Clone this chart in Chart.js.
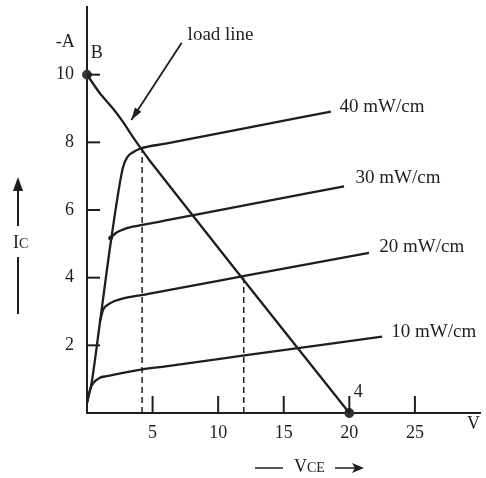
<!DOCTYPE html>
<html><head><meta charset="utf-8">
<script src="https://cdn.jsdelivr.net/npm/chart.js@4"></script>
<style>html,body{margin:0;padding:0;background:#fff}#wrap{width:486px;height:478px}</style>
</head><body><div id="wrap"><canvas id="c"></canvas></div>
<script>
// ---- data ----
const xTicks = [5, 10, 15, 20, 25];
const yTicks = [2, 4, 6, 8, 10];
const curve40X = [0, 0.35, 1.0, 1.85, 2.73, 3.05, 3.48, 4.11, 6.0, 12.0, 18.6];
const curve40Y = [0.3, 0.89, 2.72, 5.15, 7.24, 7.55, 7.7, 7.82, 7.96, 8.41, 8.91];
const curve30X = [1.8, 2.2, 2.73, 3.4, 4.11, 6.0, 12.0, 19.6];
const curve30Y = [5.17, 5.32, 5.42, 5.5, 5.55, 5.69, 6.14, 6.7];
const curve20X = [0.98, 1.23, 1.6, 1.98, 3.0, 4.23, 6.0, 12.0, 21.5];
const curve20Y = [2.7, 3.05, 3.2, 3.29, 3.41, 3.49, 3.62, 4.05, 4.73];
const curve10X = [0, 0.2, 0.47, 0.98, 1.5, 1.98, 4.23, 6.0, 12.0, 22.5];
const curve10Y = [0.3, 0.65, 0.88, 1.04, 1.09, 1.13, 1.29, 1.38, 1.70, 2.26];
const loadX = [0, 0.98, 1.98, 2.73, 3.48, 4.11, 4.74, 12.0, 20];
const loadY = [10, 9.45, 9.0, 8.61, 8.17, 7.82, 7.48, 3.9, 0];
const qPointsX = [4.2, 11.95];
const qPointsY = [7.84, 4.0];
const endPointsX = [0, 20];
const endPointsY = [10, 0];
const curveLabels = ['40 mW/cm', '30 mW/cm', '20 mW/cm', '10 mW/cm'];
const curveLabelX = [19.25, 20.47, 22.28, 23.2];
const curveLabelY = [9.05, 6.94, 4.92, 2.4];

const pts = (xs, ys) => xs.map((x, i) => ({x, y: ys[i]}));
const INK = '#1e1e1e';
const SERIF = '"Liberation Serif", "DejaVu Serif", serif';

const curveDs = (xs, ys) => ({
  data: pts(xs, ys), showLine: true, borderColor: INK, borderWidth: 2.3,
  pointRadius: 0, cubicInterpolationMode: 'monotone', fill: false
});

const datasets = [
  curveDs(curve40X, curve40Y),
  curveDs(curve30X, curve30Y),
  curveDs(curve20X, curve20Y),
  curveDs(curve10X, curve10Y),
  {data: pts(loadX, loadY), showLine: true, borderColor: INK, borderWidth: 2.3, pointRadius: 0, tension: 0.2},
  {data: [{x: qPointsX[0], y: 0}, {x: qPointsX[0], y: qPointsY[0]}], showLine: true, borderColor: INK, borderWidth: 1.5, borderDash: [6, 4], pointRadius: 0},
  {data: [{x: qPointsX[1], y: 0}, {x: qPointsX[1], y: qPointsY[1]}], showLine: true, borderColor: INK, borderWidth: 1.5, borderDash: [6, 4], pointRadius: 0},
  {data: pts(endPointsX, endPointsY), showLine: false, pointRadius: 4.5, pointBackgroundColor: '#333', pointBorderColor: '#333', clip: false},
  {data: [{x: curve30X[0], y: curve30Y[0]}], showLine: false, pointRadius: 2, pointBackgroundColor: INK, pointBorderColor: INK}
];

const deco = {
  id: 'deco',
  afterDatasetsDraw(chart) {
    const {ctx, scales: {x, y}} = chart;
    const X = v => x.getPixelForValue(v), Y = v => y.getPixelForValue(v);
    ctx.save();
    ctx.strokeStyle = INK; ctx.fillStyle = INK; ctx.lineWidth = 2;
    // inward tick marks
    yTicks.forEach(v => { ctx.beginPath(); ctx.moveTo(X(0), Y(v)); ctx.lineTo(X(0) + 13, Y(v)); ctx.stroke(); });
    xTicks.forEach(v => { ctx.beginPath(); ctx.moveTo(X(v), Y(0)); ctx.lineTo(X(v), Y(0) - 17); ctx.stroke(); });
    // load line arrow
    const ax0 = X(7.22), ay0 = Y(10.94), ax1 = X(3.38), ay1 = Y(8.66);
    ctx.lineWidth = 1.8;
    ctx.beginPath(); ctx.moveTo(ax0, ay0); ctx.lineTo(ax1, ay1); ctx.stroke();
    const ang = Math.atan2(ay1 - ay0, ax1 - ax0);
    ctx.beginPath();
    ctx.moveTo(ax1, ay1);
    ctx.lineTo(ax1 - 13 * Math.cos(ang - 0.3), ay1 - 13 * Math.sin(ang - 0.3));
    ctx.lineTo(ax1 - 13 * Math.cos(ang + 0.3), ay1 - 13 * Math.sin(ang + 0.3));
    ctx.closePath(); ctx.fill();
    // texts
    ctx.textBaseline = 'middle';
    ctx.font = '19px ' + SERIF;
    ctx.textAlign = 'left';
    curveLabels.forEach((t, i) => ctx.fillText(t, X(curveLabelX[i]), Y(curveLabelY[i])));
    ctx.fillText('load line', X(7.67), Y(11.17));
    ctx.font = '18px ' + SERIF;
    ctx.textAlign = 'center';
    ctx.fillText('-A', X(-1.65), Y(10.97));
    ctx.fillText('B', X(0.75), Y(10.62));
    ctx.fillText('4', X(20.68), Y(0.62));
    ctx.fillText('V', X(29.47), Y(-0.33));
    // Ic label with arrow
    ctx.lineWidth = 2;
    ctx.beginPath(); ctx.moveTo(18, 226); ctx.lineTo(18, 188); ctx.stroke();
    ctx.beginPath(); ctx.moveTo(18, 177); ctx.lineTo(13, 191); ctx.lineTo(23, 191); ctx.closePath(); ctx.fill();
    ctx.beginPath(); ctx.moveTo(18, 257); ctx.lineTo(18, 314); ctx.stroke();
    ctx.textAlign = 'left';
    ctx.font = '18px ' + SERIF; ctx.fillText('I', 13, 243);
    ctx.font = '14px ' + SERIF; ctx.fillText('C', 19, 244);
    // VCE label with arrow
    ctx.lineWidth = 1.5;
    ctx.beginPath(); ctx.moveTo(255, 468); ctx.lineTo(283, 468); ctx.stroke();
    ctx.font = '18px ' + SERIF; ctx.fillText('V', 294, 467);
    ctx.font = '14px ' + SERIF; ctx.fillText('CE', 307, 468);
    ctx.beginPath(); ctx.moveTo(335, 468); ctx.lineTo(356, 468); ctx.stroke();
    ctx.beginPath(); ctx.moveTo(364, 468); ctx.lineTo(352, 463); ctx.lineTo(355, 468); ctx.lineTo(352, 473); ctx.closePath(); ctx.fill();
    ctx.restore();
  }
};

const noPad = s => { s.paddingTop = 0; s.paddingBottom = 0; s.paddingLeft = 0; s.paddingRight = 0; };

new Chart(document.getElementById('c'), {
  type: 'scatter',
  data: {datasets},
  options: {
    responsive: true, maintainAspectRatio: false, animation: false,
    layout: {padding: {top: 7, right: 0, left: 0, bottom: 0}},
    plugins: {legend: {display: false}, tooltip: {enabled: false}},
    scales: {
      x: {
        type: 'linear', min: 0, max: 30,
        afterBuildTicks: s => { s.ticks = xTicks.map(v => ({value: v})); },
        afterFit: s => { s.height = 65; noPad(s); },
        grid: {display: false, drawTicks: false},
        border: {display: true, color: INK, width: 2},
        ticks: {color: INK, font: {family: SERIF, size: 18}, padding: 9, maxRotation: 0, autoSkip: false}
      },
      y: {
        type: 'linear', min: 0, max: 12,
        afterBuildTicks: s => { s.ticks = yTicks.map(v => ({value: v})); },
        afterFit: s => { s.width = 87; noPad(s); },
        grid: {display: false, drawTicks: false},
        border: {display: true, color: INK, width: 2},
        ticks: {color: INK, font: {family: SERIF, size: 18}, padding: 13, autoSkip: false}
      }
    }
  },
  plugins: [deco]
});
</script></body></html>
